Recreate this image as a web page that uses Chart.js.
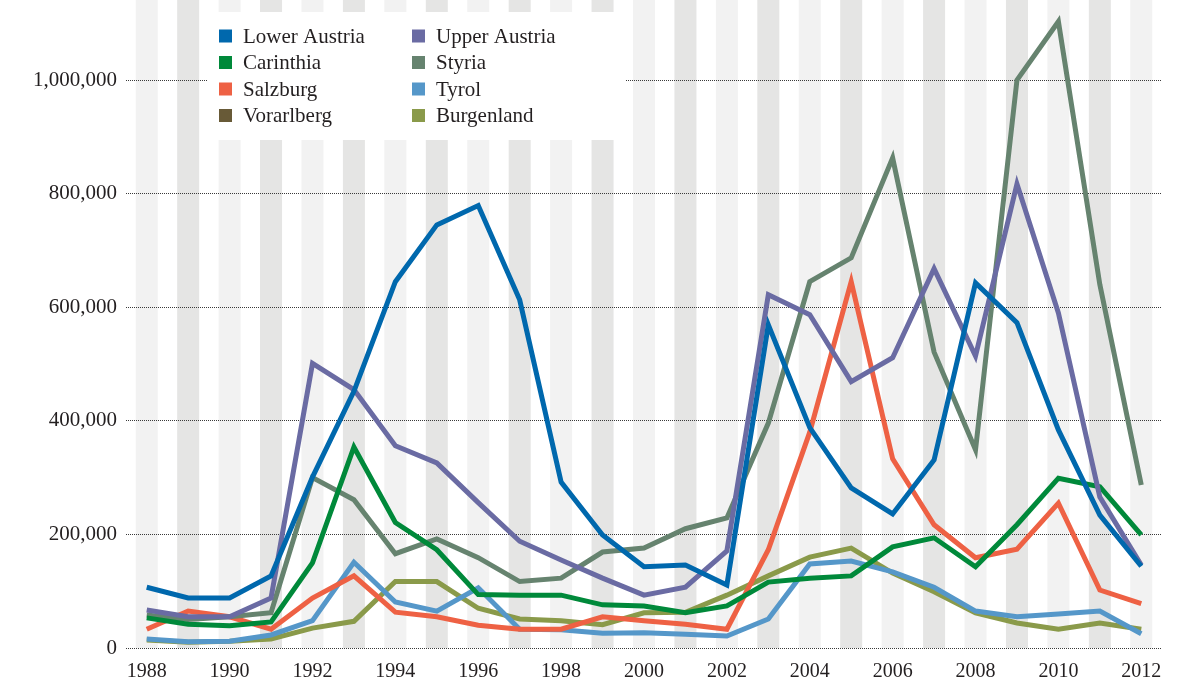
<!DOCTYPE html>
<html>
<head>
<meta charset="utf-8">
<script src="https://cdn.jsdelivr.net/npm/chart.js@4.4.1/dist/chart.umd.min.js"></script>
<style>
html,body{margin:0;padding:0;background:#fff;}
canvas{display:block;}
</style>
</head>
<body>
<canvas id="c" width="1198" height="686"></canvas>
<script>
const years = ['1988','1989','1990','1991','1992','1993','1994','1995','1996','1997','1998','1999','2000','2001','2002','2003','2004','2005','2006','2007','2008','2009','2010','2011','2012'];
const yTicks = [0, 200000, 400000, 600000, 800000, 1000000];

const lowerAustria = [107000, 88000, 88000, 127000, 301000, 452000, 645000, 745000, 779000, 613000, 292000, 199000, 143000, 146000, 111000, 569000, 388000, 282000, 236000, 331000, 643000, 573000, 384000, 234000, 144000];
const upperAustria = [67000, 55000, 55000, 88000, 501000, 455000, 356000, 326000, 256000, 188000, 155000, 123000, 93000, 107000, 171000, 622000, 587000, 469000, 511000, 668000, 514000, 817000, 590000, 266000, 146000];
const carinthia = [53000, 42000, 39000, 46000, 150000, 354000, 221000, 173000, 94000, 93000, 93000, 76000, 74000, 62000, 74000, 116000, 123000, 127000, 178000, 194000, 143000, 217000, 299000, 284000, 199000];
const styria = [58000, 50000, 55000, 62000, 300000, 261000, 166000, 192000, 159000, 117000, 123000, 169000, 176000, 210000, 229000, 396000, 645000, 687000, 863000, 521000, 349000, 1000000, 1103000, 640000, 287000];
const salzburg = [33000, 65000, 55000, 33000, 88000, 127000, 63000, 55000, 40000, 33000, 33000, 55000, 48000, 42000, 33000, 173000, 380000, 645000, 333000, 217000, 159000, 174000, 255000, 102000, 78000];
const tyrol = [16000, 11000, 12000, 23000, 48000, 151000, 81000, 65000, 106000, 33000, 32000, 26000, 27000, 24000, 21000, 51000, 148000, 153000, 134000, 107000, 65000, 55000, 60000, 65000, 25000];
const vorarlberg = [];
const burgenland = [14000, 10000, 12000, 16000, 35000, 47000, 117000, 117000, 70000, 51000, 48000, 41000, 62000, 63000, 93000, 127000, 160000, 176000, 132000, 99000, 62000, 44000, 33000, 44000, 33000];

const seriesNames = ['Lower Austria','Upper Austria','Carinthia','Styria','Salzburg','Tyrol','Vorarlberg','Burgenland'];
const seriesColors = ['#0068ad','#6a6ba3','#00893a','#66836f','#ee6144','#5597c9','#685a37','#8a9a4a'];
const seriesData = [lowerAustria, upperAustria, carinthia, styria, salzburg, tyrol, vorarlberg, burgenland];

const FONT = '"Liberation Serif", "DejaVu Serif", serif';

const stripesPlugin = {
  id: 'stripes',
  beforeDraw(chart) {
    const ctx = chart.ctx;
    const x = chart.scales.x;
    const area = chart.chartArea;
    ctx.save();
    years.forEach((y, i) => {
      const px = x.getPixelForValue(i);
      ctx.fillStyle = (i % 2 === 0) ? '#f2f2f2' : '#e5e5e4';
      ctx.fillRect(px - 11, area.top, 22, area.bottom - area.top);
    });
    ctx.restore();
  }
};

const legendPlugin = {
  id: 'boxLegend',
  beforeDatasetsDraw(chart) {
    const ctx = chart.ctx;
    ctx.save();
    ctx.fillStyle = '#ffffff';
    ctx.fillRect(208, 12, 417, 128);
    ctx.font = '21px ' + FONT;
    ctx.textBaseline = 'middle';
    ctx.textAlign = 'left';
    chart.data.datasets.forEach((ds, i) => {
      const col = i % 2;
      const row = Math.floor(i / 2);
      const mx = col === 0 ? 219 : 412;
      const cy = 36 + row * 26.5;
      ctx.fillStyle = ds.borderColor;
      ctx.fillRect(mx, cy - 6.5, 13, 13);
      ctx.fillStyle = '#231f20';
      ctx.fillText(ds.label, mx + 24, cy + 1);
    });
    ctx.restore();
  }
};

new Chart(document.getElementById('c'), {
  type: 'line',
  data: {
    labels: years,
    datasets: seriesNames.map((name, i) => ({
      label: name,
      data: seriesData[i],
      borderColor: seriesColors[i],
      backgroundColor: seriesColors[i],
      borderWidth: 5,
      pointRadius: 0,
      pointHoverRadius: 0,
      tension: 0,
      fill: false,
      borderJoinStyle: 'miter',
      borderCapStyle: 'butt'
    }))
  },
  options: {
    responsive: false,
    animation: false,
    devicePixelRatio: 1,
    layout: { padding: { left: 0, right: 36, top: 0, bottom: 0 } },
    plugins: {
      legend: { display: false },
      tooltip: { enabled: false }
    },
    scales: {
      x: {
        type: 'category',
        offset: true,
        grid: { display: false, drawTicks: false },
        border: { display: false },
        ticks: {
          autoSkip: false,
          maxRotation: 0,
          padding: 12,
          color: '#231f20',
          font: { family: FONT, size: 20 },
          callback: function(v, i) { return i % 2 === 0 ? years[i] : ''; }
        },
        afterFit(scale) { scale.height = 38; scale.paddingLeft = 0; scale.paddingRight = 0; }
      },
      y: {
        min: 0,
        max: 1141000,
        grid: {
          color: '#3a3a3a',
          lineWidth: 1,
          drawTicks: false
        },
        border: { display: false, dash: [1, 1] },
        afterBuildTicks(scale) {
          scale.ticks = yTicks.map(v => ({ value: v }));
        },
        ticks: {
          padding: 9,
          color: '#231f20',
          font: { family: FONT, size: 21 },
          callback: function(v) { return Number(v).toLocaleString('en-US'); }
        },
        afterFit(scale) { scale.width = 126; scale.paddingTop = 0; scale.paddingBottom = 0; }
      }
    }
  },
  plugins: [stripesPlugin, legendPlugin]
});
</script>
</body>
</html>
